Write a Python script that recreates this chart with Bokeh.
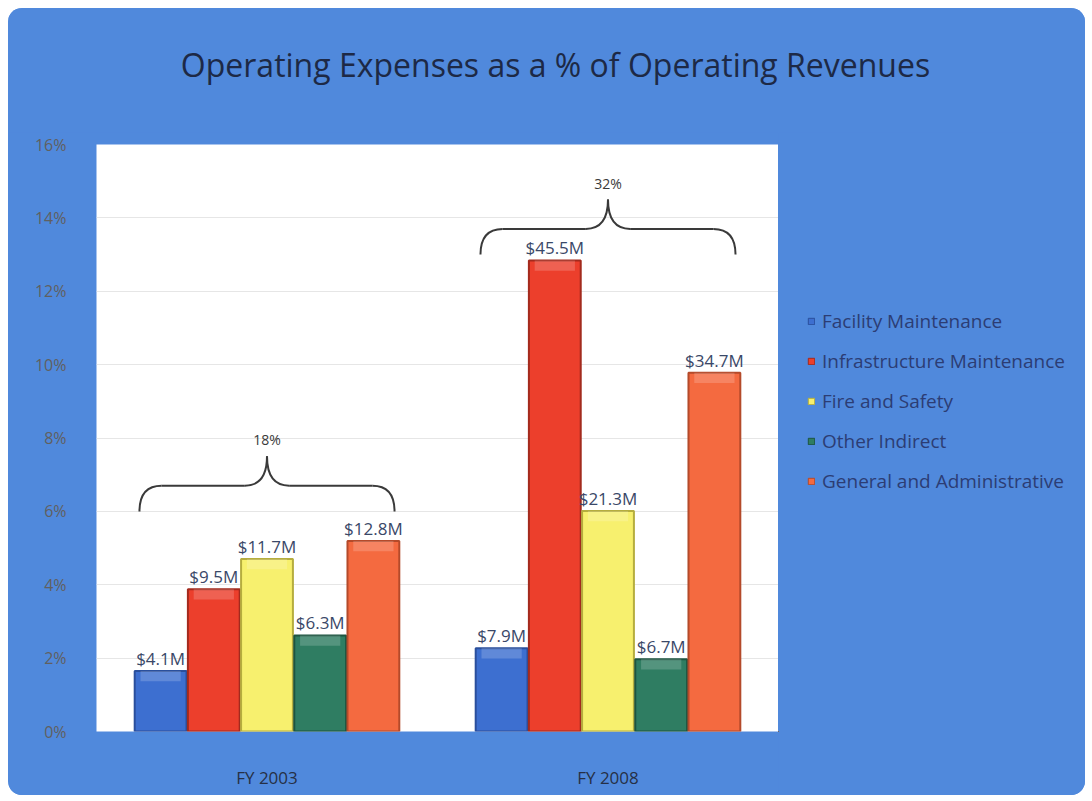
from bokeh.plotting import figure
from bokeh.layouts import column, row
from bokeh.models import (ColumnDataSource, Legend, LegendItem, FixedTicker,
                          FactorRange, Range1d, Label)
from bokeh.transform import dodge
from bokeh.core.properties import value
from bokeh.embed import file_html
from bokeh.resources import INLINE

# ---------------- data ----------------
categories = ["FY 2003", "FY 2008"]
series = ["Facility Maintenance", "Infrastructure Maintenance", "Fire and Safety",
          "Other Indirect", "General and Administrative"]
pct_fy2003 = [1.65, 3.88, 4.70, 2.62, 5.19]
pct_fy2008 = [2.27, 12.84, 6.01, 1.97, 9.78]
labels_fy2003 = ["$4.1M", "$9.5M", "$11.7M", "$6.3M", "$12.8M"]
labels_fy2008 = ["$7.9M", "$45.5M", "$21.3M", "$6.7M", "$34.7M"]
totals = ["18%", "32%"]
brace_base = [6.0, 13.0]
y_ticks = [0, 2, 4, 6, 8, 10, 12, 14, 16]
y_tick_labels = ["0%", "2%", "4%", "6%", "8%", "10%", "12%", "14%", "16%"]
title_text = "Operating Expenses as a % of Operating Revenues"

# ---------------- style ----------------
FONT = "Open Sans"
colors = ["#3d6fd0", "#ec3f2c", "#f7f06e", "#2f7d62", "#f46a40"]
edges = ["#2a4f9c", "#a32a1d", "#b5ad3e", "#1d5440", "#b44a2a"]
BG = "#5089dc"


def bare(fig):
    fig.xgrid.visible = False
    fig.ygrid.visible = False
    fig.outline_line_color = None
    return fig


# ---------------- title strip ----------------
pt = bare(figure(width=1077, height=124, x_range=Range1d(0, 1077), y_range=Range1d(0, 124),
                 output_backend="svg", toolbar_location=None,
                 x_axis_location=None, y_axis_location=None,
                 min_border=0, background_fill_color=BG, border_fill_color=BG))
pt.add_layout(Label(x=547, y=68, text=title_text, text_align="center",
                    text_baseline="middle", text_font=FONT, text_font_size="32px",
                    text_color="#1d2946"))

# ---------------- main chart ----------------
p = figure(width=770, height=663,
           x_range=FactorRange(factors=categories, range_padding=0),
           y_range=Range1d(0, 16),
           output_backend="svg", toolbar_location=None,
           min_border_left=88, min_border_right=0,
           min_border_top=12, min_border_bottom=64,
           background_fill_color="white", border_fill_color=BG,
           outline_line_color=None)

p.yaxis.ticker = FixedTicker(ticks=y_ticks)
p.yaxis.major_label_overrides = {t: l for t, l in zip(y_ticks, y_tick_labels)}
p.yaxis.axis_line_color = None
p.yaxis.major_tick_line_color = None
p.yaxis.minor_tick_line_color = None
p.yaxis.major_label_standoff = 24
p.yaxis.major_label_text_font = FONT
p.yaxis.major_label_text_font_size = "16px"
p.yaxis.major_label_text_color = "#606060"

p.xaxis.axis_line_color = None
p.xaxis.major_tick_line_color = None
p.xaxis.minor_tick_line_color = None
p.xaxis.major_label_standoff = 28
p.xaxis.major_label_text_font = FONT
p.xaxis.major_label_text_font_size = "17px"
p.xaxis.major_label_text_color = "#263045"

p.xgrid.visible = False
p.ygrid.ticker = FixedTicker(ticks=y_ticks)
p.ygrid.grid_line_color = "#e6e6e6"

step = 0.156
for i, name in enumerate(series):
    src = ColumnDataSource(dict(cat=categories,
                                pct=[pct_fy2003[i], pct_fy2008[i]],
                                lab=[labels_fy2003[i], labels_fy2008[i]]))
    off = (i - 2) * step
    xs = dodge("cat", off, range=p.x_range)
    p.vbar(x=xs, top="pct", width=0.152, source=src,
           fill_color=colors[i], line_color=edges[i], line_width=2)
    # bevel highlight just under the top edge of each bar
    p.vbar(x=xs, top="pct", width=0.118, source=src, fill_color="white",
           fill_alpha=0.18, line_color=None,
           bottom=dodge("pct", -0.28))
    p.text(x=xs, y="pct", text="lab", source=src,
           text_align="center", text_baseline="bottom", y_offset=-1,
           text_font=value(FONT), text_font_size="17px", text_color="#3a4868")

# braces with totals
hw, r_ = 0.374, 0.065
for j, cat in enumerate(categories):
    c = j + 0.5
    y0 = brace_base[j]
    y1 = y0 + 0.7
    y2 = y0 + 1.5
    for s in (-1, 1):
        p.quadratic(x0=[c + s * hw], y0=[y0], x1=[c + s * (hw - r_)], y1=[y1],
                    cx=[c + s * hw], cy=[y1], line_color="#3a3a3a", line_width=2)
        p.segment(x0=[c + s * (hw - r_)], y0=[y1], x1=[c + s * r_], y1=[y1],
                  line_color="#3a3a3a", line_width=2)
        p.quadratic(x0=[c + s * r_], y0=[y1], x1=[c], y1=[y2],
                    cx=[c], cy=[y1], line_color="#3a3a3a", line_width=2)
    p.text(x=[c], y=[y0 + 1.95], text=[totals[j]], text_align="center",
           text_baseline="middle", text_font=value(FONT), text_font_size="14px",
           text_color="#3a3a3a")

# ---------------- legend strip ----------------
pl = bare(figure(width=307, height=663, x_range=Range1d(0, 1), y_range=Range1d(0, 1),
                 output_backend="svg", toolbar_location=None,
                 x_axis_location=None, y_axis_location=None,
                 min_border=0, background_fill_color=BG, border_fill_color=BG))
items = []
for i, name in enumerate(series):
    # swatch renderers placed outside the visible range (only the legend shows them)
    r = pl.vbar(x=[-5], top=[-5], bottom=[-6], width=0.1, fill_color=colors[i],
                line_color=edges[i], line_width=1)
    items.append(LegendItem(label=name, renderers=[r]))
legend = Legend(items=items, location=(29, 237), orientation="vertical",
                padding=0, margin=0, spacing=14, label_height=22,
                glyph_height=8, glyph_width=8, label_standoff=7,
                label_text_font=FONT, label_text_font_size="19px",
                label_text_color="#2c3d74", background_fill_alpha=0,
                border_line_color=None)
pl.add_layout(legend, "center")

layout = column(pt, row(p, pl, spacing=0), spacing=0)
layout.margin = (8, 7, 6, 8)
layout.styles = {"border-radius": "14px", "overflow": "hidden",
                 "background-color": BG}

open("out.html", "w").write(file_html(layout, INLINE))
